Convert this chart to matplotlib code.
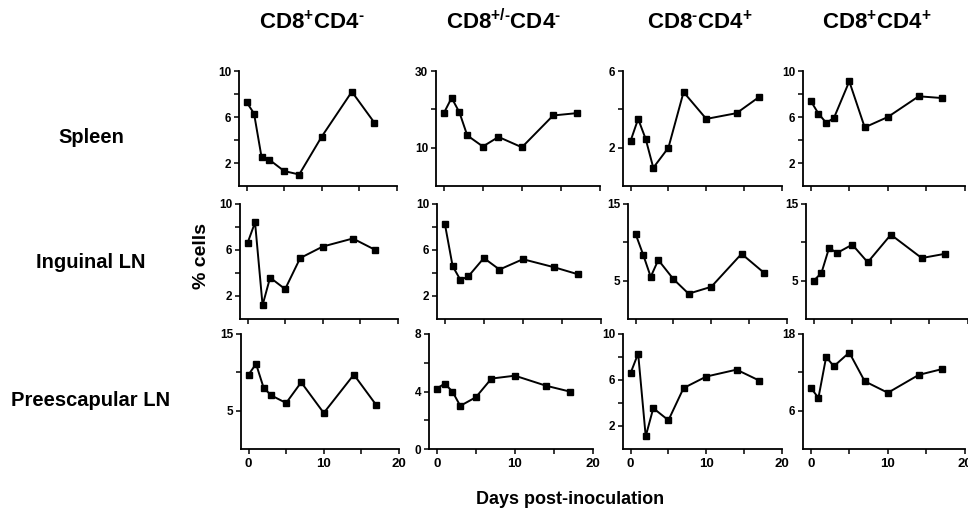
import matplotlib
matplotlib.use('Agg')
import matplotlib.pyplot as plt

plt.rcParams['font.family'] = ['Liberation Sans', 'DejaVu Sans']
plt.rcParams['font.weight'] = 'bold'
plt.rcParams['mathtext.fontset'] = 'custom'
plt.rcParams['mathtext.rm'] = 'Liberation Sans:bold'
plt.rcParams['mathtext.it'] = 'Liberation Sans:bold'
plt.rcParams['mathtext.bf'] = 'Liberation Sans:bold'

# days post-inoculation
days = [0, 1, 2, 3, 5, 7, 10, 14, 17]

col_titles = [r'$\mathrm{CD8^{\text{+}}CD4^{\text{-}}}$',
              r'$\mathrm{CD8^{\text{+/-}}CD4^{\text{-}}}$',
              r'$\mathrm{CD8^{\text{-}}CD4^{\text{+}}}$',
              r'$\mathrm{CD8^{\text{+}}CD4^{\text{+}}}$']
row_titles = ['Spleen', 'Inguinal LN', 'Preescapular LN']

# % cells, one list per column (CD8+CD4-, CD8+/-CD4-, CD8-CD4+, CD8+CD4+)
spleen = [
    [7.3, 6.3, 2.5, 2.3, 1.3, 1.0, 4.3, 8.2, 5.5],
    [19.0, 23.0, 19.2, 13.2, 10.3, 12.8, 10.1, 18.4, 19.0],
    [2.35, 3.5, 2.45, 0.95, 2.0, 4.9, 3.5, 3.8, 4.65],
    [7.4, 6.3, 5.5, 5.9, 9.1, 5.1, 6.0, 7.8, 7.65],
]
inguinal = [
    [6.6, 8.4, 1.2, 3.6, 2.6, 5.3, 6.3, 7.0, 6.0],
    [8.3, 4.6, 3.4, 3.7, 5.3, 4.3, 5.2, 4.5, 3.9],
    [11.1, 8.4, 5.5, 7.7, 5.2, 3.3, 4.2, 8.5, 6.0],
    [5.0, 6.0, 9.3, 8.6, 9.7, 7.4, 11.0, 7.95, 8.5],
]
preescapular = [
    [9.7, 11.1, 8.0, 7.0, 6.0, 8.7, 4.7, 9.7, 5.7],
    [4.2, 4.55, 4.0, 3.0, 3.6, 4.9, 5.1, 4.4, 4.0],
    [6.6, 8.3, 1.1, 3.55, 2.5, 5.3, 6.3, 6.9, 5.95],
    [9.6, 8.0, 14.4, 12.95, 15.1, 10.6, 8.8, 11.6, 12.5],
]

# y-axis max, tick values and which ones carry a label
ymax = [[10, 30, 6, 10], [10, 10, 15, 15], [15, 8, 10, 18]]
yticks = [
    [[2, 4, 6, 8, 10], [10, 20, 30], [2, 4, 6], [2, 4, 6, 8, 10]],
    [[2, 4, 6, 8, 10], [2, 4, 6, 8, 10], [5, 10, 15], [5, 10, 15]],
    [[5, 10, 15], [0, 2, 4, 6, 8], [2, 4, 6, 8, 10], [6, 12, 18]],
]
ylabeled = [
    [[2, 6, 10], [10, 30], [2, 6], [2, 6, 10]],
    [[2, 6, 10], [2, 6, 10], [5, 15], [5, 15]],
    [[5, 15], [0, 4, 8], [2, 6, 10], [6, 18]],
]

data = [spleen, inguinal, preescapular]

W, H = 968, 514
fig = plt.figure(figsize=(W / 100, H / 100), dpi=100)

# panel placement in pixels (left spine x, top y)
lefts = [[239, 436, 623, 803], [240, 437, 628, 806], [241, 429, 623, 803]]
widths = [158, 164, 159, 162]
tops = [71, 204, 334]
ax_h = 115

for r in range(3):
    for c in range(4):
        l, t, w = lefts[r][c], tops[r], widths[c]
        ax = fig.add_axes([l / W, 1 - (t + ax_h) / H, w / W, ax_h / H])
        ax.plot(days, data[r][c], color='black', lw=1.4, marker='s', ms=4.2,
                mfc='black', mec='black')
        ax.set_xlim(-1, 20)
        ax.set_ylim(0, ymax[r][c])
        ax.set_xticks([0, 5, 10, 15, 20])
        if r == 2:
            ax.set_xticklabels(['0', '', '10', '', '20'])
        else:
            ax.set_xticklabels([])
        ax.set_yticks(yticks[r][c])
        ax.set_yticklabels([str(v) if v in ylabeled[r][c] else ''
                            for v in yticks[r][c]])
        for s in ['top', 'right']:
            ax.spines[s].set_visible(False)
        for s in ['left', 'bottom']:
            ax.spines[s].set_linewidth(1.3)
        ax.tick_params(axis='both', direction='out', length=3.5, width=1.1,
                       pad=2)
        ax.tick_params(axis='x', labelsize=9.5, pad=3)
        ax.tick_params(axis='y', labelsize=8.5)
        ax.patch.set_alpha(0)

col_x = [312, 504, 700, 877]
for c, title in enumerate(col_titles):
    fig.text(col_x[c] / W, 1 - 22 / H, title, ha='center', va='center',
             fontsize=16, fontweight='bold')

row_y = [138, 262, 400]
for r, name in enumerate(row_titles):
    fig.text(91 / W, 1 - row_y[r] / H, name, ha='center', va='center',
             fontsize=14.5, fontweight='bold')

fig.text(201 / W, 1 - 256 / H, '% cells', rotation=90, ha='center',
         va='center', fontsize=14, fontweight='bold')
fig.text(570 / W, 1 - 499 / H, 'Days post-inoculation', ha='center',
         va='center', fontsize=13, fontweight='bold')

fig.savefig('out.png', dpi=100)
